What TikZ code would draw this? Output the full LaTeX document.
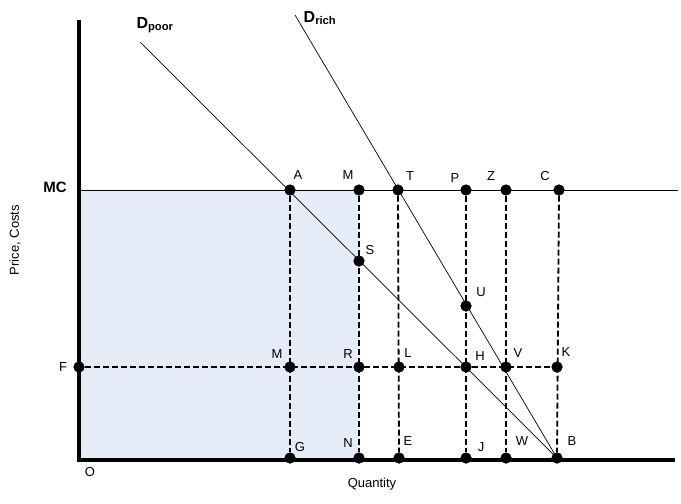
\documentclass[tikz,border=0pt]{standalone}
\usepackage{fontspec}
\setmainfont{Liberation Sans}
\begin{document}
\begin{tikzpicture}[x=1pt,y=-1pt,
  dot/.style={circle,fill=black,inner sep=0pt,minimum size=11pt},
  lab/.style={font=\fontsize{13}{15}\selectfont},
  dl/.style={dashed,line width=1.8pt,dash pattern=on 6pt off 3pt}]
\useasboundingbox (0,0) rectangle (681,504);
\fill[fill={rgb,255:red,230;green,236;blue,247}] (79,190) rectangle (359,460);
\foreach \n/\x/\y in {A/290/190,M1/359/190,T/398/190,P/466/190,Z/506/190,C/559/190,
  S/359/261,U/466/306,F/79/367,M2/290/367,R/359/367,L/399/367,H/466/367,V/506/367,K/557/367,
  G/290/458,N/359/458,E/399/458,J/466/458,W/506/458,B/557/458}
  \node[dot] (\n) at (\x,\y) {};
\coordinate (dp) at (140,42);
\coordinate (dr) at (295,15);
\coordinate (mc0) at (79,190);
\coordinate (mc1) at (678,190);
\coordinate (ytop) at (79,20);
\coordinate (o) at (79,460);
\coordinate (xe) at (675,460);
\draw[line width=0.7pt] (mc0) -- (mc1);
\draw[line width=0.7pt] (dp) -- (B.center);
\draw[line width=0.7pt] (dr) -- (B.center);
\draw[dl] (A) -- (G); \draw[dl] (M1) -- (N); \draw[dl] (T) -- (E);
\draw[dl] (P) -- (J); \draw[dl] (Z) -- (W); \draw[dl] (C) -- (B);
\draw[dl] (F) -- (K);
\draw[line width=3.2pt] (ytop) -- (o) -- (xe);
\foreach \n in {A,M1,T,P,Z,C,S,U,F,M2,R,L,H,V,K,G,N,E,J,W,B} \fill (\n) circle (5.5pt);
\foreach \t/\x/\y in {A/298/175,M/348/175,T/410/176,P/455/178,Z/491/176,C/545/176,
  S/370/250,U/481/292,M/277/354,R/348/354,L/408/353,H/480/356,V/518/353,K/566/352,
  G/300/447,N/348/443,E/408/441,J/481/447,W/522/441,B/572/441,F/63/367,O/90/472}
  \node[lab] at (\x,\y) {\t};
\node[font=\bfseries\fontsize{15}{17}\selectfont] at (55,187) {MC};
\node[font=\bfseries\fontsize{16}{18}\selectfont] at (155,25) {D\textsubscript{poor}};
\node[font=\bfseries\fontsize{16}{18}\selectfont] at (320,18) {D\textsubscript{rich}};
\node[lab] at (372,484) {Quantity};
\node[lab,rotate=90] at (15,240) {Price, Costs};
\end{tikzpicture}
\end{document}
